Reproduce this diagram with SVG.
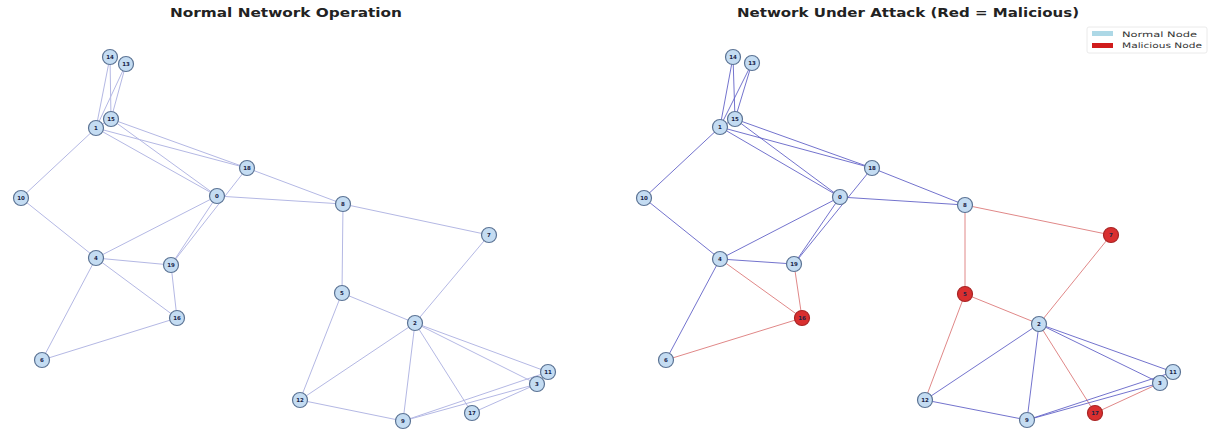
<svg xmlns="http://www.w3.org/2000/svg" width="1214" height="432" viewBox="0 0 1214 432">
<style>
.title{font-family:"DejaVu Sans",sans-serif;font-weight:bold;font-size:12px;fill:#222}
.e{stroke:#b4b8e4;stroke-width:1;fill:none}
.eb{stroke:#5a5ac4;stroke-width:1;fill:none;opacity:0.85}
.er{stroke:#e08888;stroke-width:1;fill:none}
.n circle{fill:#c4dcf2;stroke:#5b7394;stroke-width:1.2}
.m circle{fill:#d92f2f;stroke:#a82424;stroke-width:1.2}
.n text,.m text{font-family:"DejaVu Sans",sans-serif;font-weight:bold;font-size:5.5px;fill:#1a2448;text-anchor:middle}
.leg{font-family:"DejaVu Sans",sans-serif;font-size:7.5px;fill:#333}
</style>
<rect width="1214" height="432" fill="#ffffff"/>
<text class="title" x="286" y="17" text-anchor="middle" textLength="232" lengthAdjust="spacingAndGlyphs">Normal Network Operation</text>
<text class="title" x="908" y="17" text-anchor="middle" textLength="342" lengthAdjust="spacingAndGlyphs">Network Under Attack (Red = Malicious)</text>

<g id="connectors-left">
<line class="e" x1="110" y1="57" x2="96" y2="128"/>
<line class="e" x1="110" y1="57" x2="111" y2="119"/>
<line class="e" x1="126" y1="64" x2="96" y2="128"/>
<line class="e" x1="126" y1="64" x2="111" y2="119"/>
<line class="e" x1="111" y1="119" x2="96" y2="128"/>
<line class="e" x1="96" y1="128" x2="21" y2="198"/>
<line class="e" x1="96" y1="128" x2="247" y2="168"/>
<line class="e" x1="111" y1="119" x2="247" y2="168"/>
<line class="e" x1="96" y1="128" x2="217" y2="196"/>
<line class="e" x1="111" y1="119" x2="217" y2="196"/>
<line class="e" x1="247" y1="168" x2="343" y2="204"/>
<line class="e" x1="247" y1="168" x2="171" y2="265"/>
<line class="e" x1="217" y1="196" x2="171" y2="265"/>
<line class="e" x1="217" y1="196" x2="343" y2="204"/>
<line class="e" x1="217" y1="196" x2="96" y2="258"/>
<line class="e" x1="21" y1="198" x2="96" y2="258"/>
<line class="e" x1="96" y1="258" x2="171" y2="265"/>
<line class="e" x1="96" y1="258" x2="177" y2="318"/>
<line class="e" x1="96" y1="258" x2="42" y2="360"/>
<line class="e" x1="171" y1="265" x2="177" y2="318"/>
<line class="e" x1="177" y1="318" x2="42" y2="360"/>
<line class="e" x1="343" y1="204" x2="489" y2="235"/>
<line class="e" x1="343" y1="204" x2="342" y2="293"/>
<line class="e" x1="489" y1="235" x2="415" y2="323"/>
<line class="e" x1="342" y1="293" x2="415" y2="323"/>
<line class="e" x1="342" y1="293" x2="300" y2="400"/>
<line class="e" x1="415" y1="323" x2="300" y2="400"/>
<line class="e" x1="415" y1="323" x2="403" y2="421"/>
<line class="e" x1="415" y1="323" x2="472" y2="413"/>
<line class="e" x1="415" y1="323" x2="548" y2="372"/>
<line class="e" x1="415" y1="323" x2="537" y2="384"/>
<line class="e" x1="300" y1="400" x2="403" y2="421"/>
<line class="e" x1="403" y1="421" x2="548" y2="372"/>
<line class="e" x1="403" y1="421" x2="537" y2="384"/>
<line class="e" x1="472" y1="413" x2="537" y2="384"/>
</g>

<g id="connectors-right">
<line class="eb" x1="733" y1="57" x2="720" y2="127"/>
<line class="eb" x1="733" y1="57" x2="735" y2="119"/>
<line class="eb" x1="752" y1="63" x2="720" y2="127"/>
<line class="eb" x1="752" y1="63" x2="735" y2="119"/>
<line class="eb" x1="735" y1="119" x2="720" y2="127"/>
<line class="eb" x1="720" y1="127" x2="644" y2="198"/>
<line class="eb" x1="720" y1="127" x2="872" y2="168"/>
<line class="eb" x1="735" y1="119" x2="872" y2="168"/>
<line class="eb" x1="720" y1="127" x2="840" y2="197"/>
<line class="eb" x1="735" y1="119" x2="840" y2="197"/>
<line class="eb" x1="872" y1="168" x2="965" y2="205"/>
<line class="eb" x1="872" y1="168" x2="794" y2="264"/>
<line class="eb" x1="840" y1="197" x2="794" y2="264"/>
<line class="eb" x1="840" y1="197" x2="965" y2="205"/>
<line class="eb" x1="840" y1="197" x2="720" y2="259"/>
<line class="eb" x1="644" y1="198" x2="720" y2="259"/>
<line class="eb" x1="720" y1="259" x2="794" y2="264"/>
<line class="er" x1="720" y1="259" x2="802" y2="318"/>
<line class="eb" x1="720" y1="259" x2="666" y2="360"/>
<line class="er" x1="794" y1="264" x2="802" y2="318"/>
<line class="er" x1="802" y1="318" x2="666" y2="360"/>
<line class="er" x1="965" y1="205" x2="1111" y2="235"/>
<line class="er" x1="965" y1="205" x2="965" y2="294"/>
<line class="er" x1="1111" y1="235" x2="1039" y2="324"/>
<line class="er" x1="965" y1="294" x2="1039" y2="324"/>
<line class="er" x1="965" y1="294" x2="925" y2="400"/>
<line class="eb" x1="1039" y1="324" x2="925" y2="400"/>
<line class="eb" x1="1039" y1="324" x2="1027" y2="420"/>
<line class="er" x1="1039" y1="324" x2="1095" y2="413"/>
<line class="eb" x1="1039" y1="324" x2="1173" y2="372"/>
<line class="eb" x1="1039" y1="324" x2="1160" y2="383"/>
<line class="eb" x1="925" y1="400" x2="1027" y2="420"/>
<line class="eb" x1="1027" y1="420" x2="1173" y2="372"/>
<line class="eb" x1="1027" y1="420" x2="1160" y2="383"/>
<line class="er" x1="1095" y1="413" x2="1160" y2="383"/>
</g>

<g id="nodes-left">
<g id="L14" class="n"><circle cx="110" cy="57" r="7.5"/><text x="110" y="59">14</text></g>
<g id="L13" class="n"><circle cx="126" cy="64" r="7.5"/><text x="126" y="66">13</text></g>
<g id="L15" class="n"><circle cx="111" cy="119" r="7.5"/><text x="111" y="121">15</text></g>
<g id="L1" class="n"><circle cx="96" cy="128" r="7.5"/><text x="96" y="130">1</text></g>
<g id="L18" class="n"><circle cx="247" cy="168" r="7.5"/><text x="247" y="170">18</text></g>
<g id="L10" class="n"><circle cx="21" cy="198" r="7.5"/><text x="21" y="200">10</text></g>
<g id="L0" class="n"><circle cx="217" cy="196" r="7.5"/><text x="217" y="198">0</text></g>
<g id="L8" class="n"><circle cx="343" cy="204" r="7.5"/><text x="343" y="206">8</text></g>
<g id="L7" class="n"><circle cx="489" cy="235" r="7.5"/><text x="489" y="237">7</text></g>
<g id="L4" class="n"><circle cx="96" cy="258" r="7.5"/><text x="96" y="260">4</text></g>
<g id="L19" class="n"><circle cx="171" cy="265" r="7.5"/><text x="171" y="267">19</text></g>
<g id="L16" class="n"><circle cx="177" cy="318" r="7.5"/><text x="177" y="320">16</text></g>
<g id="L6" class="n"><circle cx="42" cy="360" r="7.5"/><text x="42" y="362">6</text></g>
<g id="L5" class="n"><circle cx="342" cy="293" r="7.5"/><text x="342" y="295">5</text></g>
<g id="L2" class="n"><circle cx="415" cy="323" r="7.5"/><text x="415" y="325">2</text></g>
<g id="L12" class="n"><circle cx="300" cy="400" r="7.5"/><text x="300" y="402">12</text></g>
<g id="L9" class="n"><circle cx="403" cy="421" r="7.5"/><text x="403" y="423">9</text></g>
<g id="L17" class="n"><circle cx="472" cy="413" r="7.5"/><text x="472" y="415">17</text></g>
<g id="L11" class="n"><circle cx="548" cy="372" r="7.5"/><text x="548" y="374">11</text></g>
<g id="L3" class="n"><circle cx="537" cy="384" r="7.5"/><text x="537" y="386">3</text></g>
</g>

<g id="nodes-right">
<g id="R14" class="n"><circle cx="733" cy="57" r="7.5"/><text x="733" y="59">14</text></g>
<g id="R13" class="n"><circle cx="752" cy="63" r="7.5"/><text x="752" y="65">13</text></g>
<g id="R15" class="n"><circle cx="735" cy="119" r="7.5"/><text x="735" y="121">15</text></g>
<g id="R1" class="n"><circle cx="720" cy="127" r="7.5"/><text x="720" y="129">1</text></g>
<g id="R18" class="n"><circle cx="872" cy="168" r="7.5"/><text x="872" y="170">18</text></g>
<g id="R10" class="n"><circle cx="644" cy="198" r="7.5"/><text x="644" y="200">10</text></g>
<g id="R0" class="n"><circle cx="840" cy="197" r="7.5"/><text x="840" y="199">0</text></g>
<g id="R8" class="n"><circle cx="965" cy="205" r="7.5"/><text x="965" y="207">8</text></g>
<g id="R7" class="m"><circle cx="1111" cy="235" r="7.5"/><text x="1111" y="237">7</text></g>
<g id="R4" class="n"><circle cx="720" cy="259" r="7.5"/><text x="720" y="261">4</text></g>
<g id="R19" class="n"><circle cx="794" cy="264" r="7.5"/><text x="794" y="266">19</text></g>
<g id="R16" class="m"><circle cx="802" cy="318" r="7.5"/><text x="802" y="320">16</text></g>
<g id="R6" class="n"><circle cx="666" cy="360" r="7.5"/><text x="666" y="362">6</text></g>
<g id="R5" class="m"><circle cx="965" cy="294" r="7.5"/><text x="965" y="296">5</text></g>
<g id="R2" class="n"><circle cx="1039" cy="324" r="7.5"/><text x="1039" y="326">2</text></g>
<g id="R12" class="n"><circle cx="925" cy="400" r="7.5"/><text x="925" y="402">12</text></g>
<g id="R9" class="n"><circle cx="1027" cy="420" r="7.5"/><text x="1027" y="422">9</text></g>
<g id="R17" class="m"><circle cx="1095" cy="413" r="7.5"/><text x="1095" y="415">17</text></g>
<g id="R11" class="n"><circle cx="1173" cy="372" r="7.5"/><text x="1173" y="374">11</text></g>
<g id="R3" class="n"><circle cx="1160" cy="383" r="7.5"/><text x="1160" y="385">3</text></g>
</g>

<g id="legend">
<rect x="1087" y="27" width="120" height="26" fill="#ffffff" stroke="#e4e4e4" stroke-width="0.8" rx="2"/>
<rect x="1092" y="31" width="21" height="5" fill="#add8e6"/>
<text class="leg" x="1122" y="37" textLength="75" lengthAdjust="spacingAndGlyphs">Normal Node</text>
<rect x="1092" y="43" width="21" height="5" fill="#d01c1c"/>
<text class="leg" x="1122" y="48" textLength="80" lengthAdjust="spacingAndGlyphs">Malicious Node</text>
</g>
</svg>
